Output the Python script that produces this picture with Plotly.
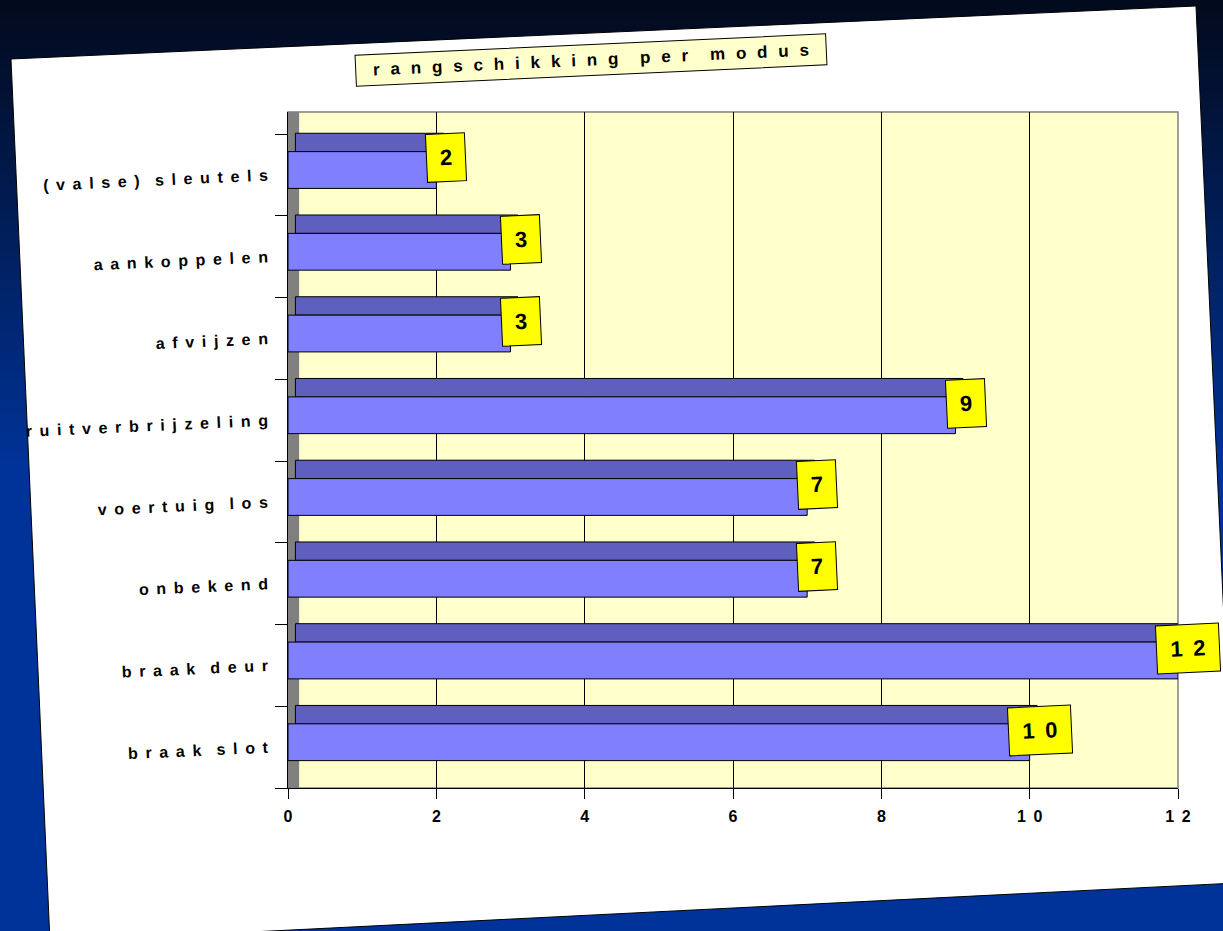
import plotly.graph_objects as go

W, H = 1223, 931

# ── Data (chart order, top to bottom) ────────────────────────────────────────
modus = ['(valse) sleutels', 'aankoppelen', 'afvijzen', 'ruitverbrijzeling',
         'voertuig los', 'onbekend', 'braak deur', 'braak slot']
aantal = [2, 3, 3, 9, 7, 7, 12, 10]
x_ticks = [0, 2, 4, 6, 8, 10, 12]
titel = 'rangschikking per modus'

# ── Colours ──────────────────────────────────────────────────────────────────
_FRONT = '#8080ff'
_TOP = '#5f5fbf'
_WALL = '#ffffcc'
_SIDE = '#808080'
_LABEL = '#ffff00'
_FONT = 'Arial, Liberation Sans, sans-serif'
_ANGLE = -2.6

NB = '\u00a0'
THIN = '\u2009'
HAIR = '\u200a'


def spaced(s, gap=NB + THIN) -> str:
    """Old PowerPoint look: letters spread out (svg collapses normal spaces)."""
    words = str(s).split(' ')
    return (gap + gap).join(gap.join(w) for w in words)


def px(x, y):
    return x / W, 1 - y / H


def mix(c0, c1, t):
    return '#%02x%02x%02x' % tuple(round(a + (b - a) * t) for a, b in zip(c0, c1))


# plotly puts the first category at the bottom, so reverse
cats = modus[::-1]
vals = aantal[::-1]

fig = go.Figure()

# top face of the 3d bars
fig.add_trace(go.Bar(
    x=vals, y=cats, orientation='h', base=0.1,
    width=0.225, offset=0.285,
    marker=dict(color=_TOP, line=dict(color='black', width=1)),
    hoverinfo='skip',
))
# front face
fig.add_trace(go.Bar(
    x=vals, y=cats, orientation='h',
    width=0.45, offset=-0.165,
    marker=dict(color=_FRONT, line=dict(color='black', width=1)),
    hoverinfo='skip',
))

shapes = []

# slide background: dark navy fading to blue
n = 93
top, mid = (2, 10, 28), (0, 51, 153)
for i in range(n):
    y_px = (i + 0.5) * H / n
    t = min(y_px / 470, 1.0)
    x0, y0 = px(0, i * H / n)
    x1, y1 = px(W, (i + 1) * H / n + 1)
    shapes.append(dict(type='rect', xref='paper', yref='paper',
                       x0=x0, x1=x1, y0=y1, y1=y0,
                       fillcolor=mix(top, mid, t), line_width=0, layer='below'))

# tilted white card
corners = [(11, 59), (1196, 6), (1236, 883), (50, 942)]
path = 'M ' + ' L '.join('%.5f,%.5f' % px(x, y) for x, y in corners) + ' Z'
shapes.append(dict(type='path', xref='paper', yref='paper', path=path,
                   fillcolor='white', line=dict(color='black', width=1), layer='below'))

# back wall + grey side wall
shapes.append(dict(type='rect', xref='x domain', yref='y domain',
                   x0=0, x1=1, y0=0, y1=1,
                   fillcolor=_WALL, line=dict(color=_SIDE, width=1.5), layer='below'))
shapes.append(dict(type='rect', xref='x', yref='y domain',
                   x0=0, x1=0.15, y0=0, y1=1,
                   fillcolor=_SIDE, line_width=0, layer='below'))

annotations = []

# value boxes
for c, v in zip(cats, vals):
    annotations.append(dict(
        x=v, y=c, xref='x', yref='y',
        text=spaced(v, NB + THIN), showarrow=False,
        xanchor='center', yanchor='middle', xshift=10, yshift=17,
        font=dict(family=_FONT, size=22, color='black', weight='bold'),
        bgcolor=_LABEL, bordercolor='black', borderwidth=1,
        width=36 if v < 10 else 60, height=45,
        textangle=_ANGLE,
    ))

# title box
tx, ty = px(591, 60)
annotations.append(dict(
    x=tx, y=ty, xref='paper', yref='paper',
    text=spaced(titel, NB + NB + HAIR), showarrow=False,
    xanchor='center', yanchor='middle',
    font=dict(family=_FONT, size=17, color='black', weight='bold'),
    bgcolor=_WALL, bordercolor='black', borderwidth=1,
    width=468, height=28, textangle=_ANGLE,
))

fig.update_layout(
    width=W, height=H,
    margin=dict(l=0, r=0, t=0, b=0),
    paper_bgcolor='#003399',
    plot_bgcolor='rgba(0,0,0,0)',
    barmode='overlay',
    showlegend=False,
    shapes=shapes,
    annotations=annotations,
    xaxis=dict(
        domain=[288 / W, 1178 / W], range=[0, 12],
        tickvals=x_ticks, ticktext=[spaced(t, NB + THIN) for t in x_ticks],
        showgrid=True, gridcolor='black', gridwidth=1, zeroline=False,
        showline=True, linecolor='black', linewidth=1,
        ticks='outside', ticklen=10, tickcolor='black',
        ticklabelstandoff=4,
        tickfont=dict(family=_FONT, size=16, color='black', weight='bold'),
        automargin=False, fixedrange=True,
    ),
    yaxis=dict(
        domain=[1 - 788 / H, 1 - 112 / H], type='category',
        range=[-0.5, 7.77],
        tickvals=cats, ticktext=[spaced(c) for c in cats],
        tickson='boundaries',
        showgrid=False, zeroline=False,
        showline=True, linecolor='black', linewidth=1,
        ticks='outside', ticklen=12, tickcolor='black',
        ticklabelstandoff=16, tickangle=_ANGLE,
        tickfont=dict(family=_FONT, size=16, color='black', weight='bold'),
        automargin=False, fixedrange=True,
    ),
)

fig.write_html('out.html', config={'displayModeBar': False},
               post_script="document.body.style.margin='0';"
                           "document.body.style.overflow='hidden';")
